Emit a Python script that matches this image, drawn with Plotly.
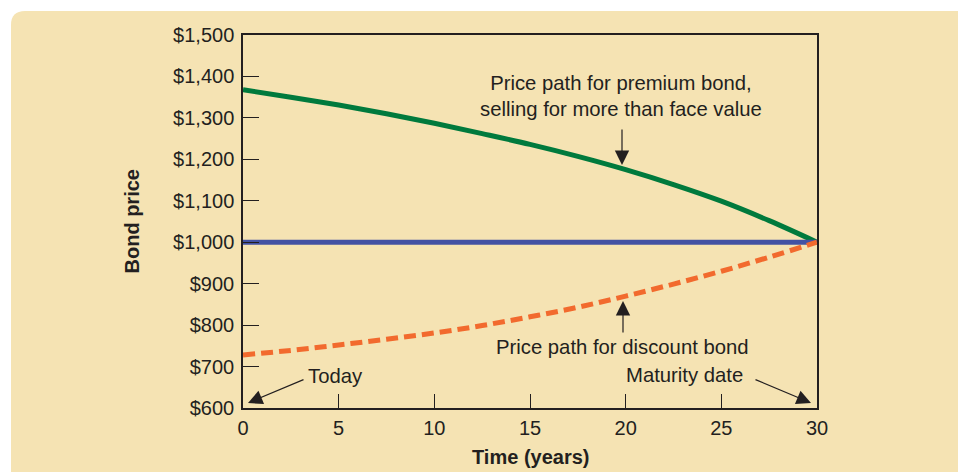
import plotly.graph_objects as go

# Years to maturity axis and bond price paths (USD)
years = [0, 2.5, 5, 7.5, 10, 12.5, 15, 17.5, 20, 22.5, 25, 27.5, 30]
premium_price = [1368, 1350, 1331, 1310, 1287, 1262, 1236, 1207, 1175, 1139, 1099, 1052, 1000]
par_price = [1000] * len(years)
discount_price = [728, 739, 752, 766, 781, 799, 820, 843, 870, 899, 930, 964, 1000]

y_ticks = [600, 700, 800, 900, 1000, 1100, 1200, 1300, 1400, 1500]
y_tick_labels = ["$600", "$700", "$800", "$900", "$1,000", "$1,100", "$1,200", "$1,300", "$1,400", "$1,500"]
x_ticks = [0, 5, 10, 15, 20, 25, 30]

BEIGE = "#F5E3B3"
INK = "#231F20"
GREEN = "#007A3D"
BLUE = "#4352A3"
ORANGE = "#F26A2E"
FONT = "Liberation Sans, Arial, sans-serif"

W, H = 958, 472
L, R, T, B = 243, 141, 35, 64
pw, ph = W - L - R, H - T - B


def px_x(p):
    return (p - L) / pw


def px_y(p):
    return (H - B - p) / ph


fig = go.Figure()
fig.add_trace(go.Scatter(x=years, y=premium_price, mode="lines", line=dict(color=GREEN, width=5, shape="spline"),
                         hoverinfo="skip"))
fig.add_trace(go.Scatter(x=years, y=par_price, mode="lines", line=dict(color=BLUE, width=5), hoverinfo="skip"))
fig.add_trace(go.Scatter(x=years, y=discount_price, mode="lines",
                         line=dict(color=ORANGE, width=5, dash="12px,6px", shape="spline"), hoverinfo="skip"))

# beige panel with a rounded top-left corner
x0, y0 = px_x(11), px_y(11)
x1, y1 = px_x(W + 5), px_y(H + 5)
rx, ry = 14 / pw, 14 / ph
panel = (f"M {x0},{y1} L {x0},{y0 - ry} Q {x0},{y0} {x0 + rx},{y0} "
         f"L {x1},{y0} L {x1},{y1} Z")
fig.add_shape(type="path", path=panel, xref="paper", yref="paper",
              fillcolor=BEIGE, line=dict(width=0), layer="below")

ann_font = dict(family=FONT, size=20.3, color=INK)
arrow_kw = dict(showarrow=True, arrowhead=2, arrowsize=2.4, arrowwidth=1.2, arrowcolor=INK,
                axref="pixel", ayref="pixel", text="")
title_font = dict(family=FONT, size=20, color=INK)

annotations = [
    dict(x=px_x(621), y=px_y(96), xref="paper", yref="paper", showarrow=False,
         text="Price path for premium bond,<br>selling for more than face value", font=ann_font,
         xanchor="center", yanchor="middle"),
    dict(x=px_x(622), y=px_y(347), xref="paper", yref="paper", showarrow=False,
         text="Price path for discount bond", font=ann_font, xanchor="center", yanchor="middle"),
    dict(x=px_x(306), y=px_y(376), xref="paper", yref="paper", showarrow=False,
         text="Today", font=ann_font, xanchor="left", yanchor="middle"),
    dict(x=px_x(745), y=px_y(375), xref="paper", yref="paper", showarrow=False,
         text="Maturity date", font=ann_font, xanchor="right", yanchor="middle"),
    dict(x=px_x(622), y=px_y(165), xref="paper", yref="paper", ax=0, ay=-37, **arrow_kw),
    dict(x=px_x(623), y=px_y(301), xref="paper", yref="paper", ax=0, ay=33, **arrow_kw),
    dict(x=px_x(248), y=px_y(403), xref="paper", yref="paper", ax=57, ay=-24, **arrow_kw),
    dict(x=px_x(811), y=px_y(403), xref="paper", yref="paper", ax=-57, ay=-24, **arrow_kw),
    dict(x=px_x(131), y=0.5, xref="paper", yref="paper", showarrow=False, text="<b>Bond price</b>",
         textangle=-90, font=title_font, xanchor="center", yanchor="middle"),
    dict(x=0.5, y=px_y(457), xref="paper", yref="paper", showarrow=False, text="<b>Time (years)</b>",
         font=title_font, xanchor="center", yanchor="middle"),
]

fig.update_layout(
    width=W, height=H,
    margin=dict(l=L, r=R, t=T, b=B),
    paper_bgcolor="white",
    plot_bgcolor=BEIGE,
    showlegend=False,
    annotations=annotations,
    font=dict(family=FONT, size=20, color=INK),
)
fig.update_xaxes(range=[0, 30], tickvals=x_ticks, ticks="inside", ticklen=14, tickwidth=1.3, tickcolor=INK,
                 showline=True, linewidth=1.5, linecolor=INK, mirror=True, showgrid=False, zeroline=False,
                 tickfont=dict(family=FONT, size=20, color=INK), ticklabelstandoff=1)
fig.update_yaxes(range=[600, 1500], tickvals=y_ticks, ticktext=y_tick_labels, ticks="inside", ticklen=16,
                 tickwidth=1.3, tickcolor=INK, showline=True, linewidth=1.5, linecolor=INK, mirror=True,
                 showgrid=False, zeroline=False, tickfont=dict(family=FONT, size=20, color=INK),
                 ticklabelstandoff=3)

fig.write_html("out.html")
